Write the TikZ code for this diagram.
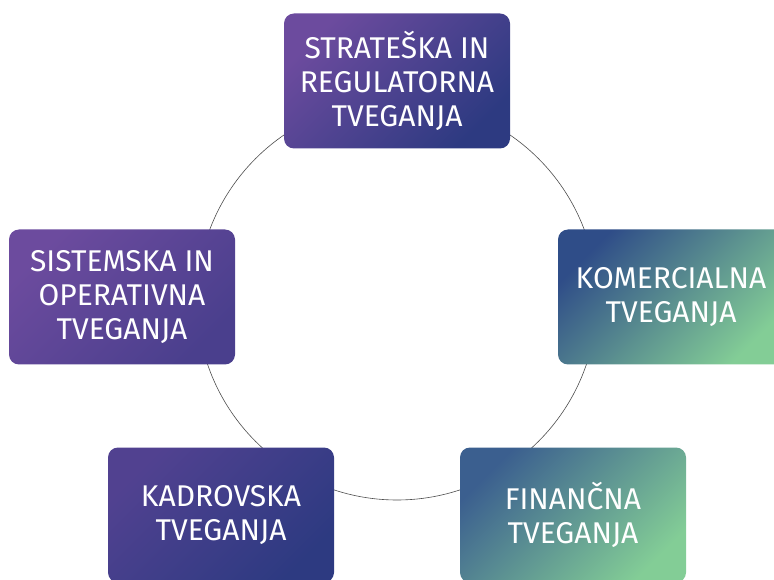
\documentclass[tikz,border=0pt]{standalone}
\usepackage{fontspec}
\setmainfont{Fira Sans}
\usetikzlibrary{positioning}
\definecolor{vijola}{HTML}{6C4B9E}
\definecolor{vijolb}{HTML}{4A3F8D}
\definecolor{temnom}{HTML}{2D3A81}
\definecolor{modra}{HTML}{2F4D88}
\definecolor{modrb}{HTML}{3B5F8F}
\definecolor{zelena}{HTML}{83CD96}
\tikzset{%
    riskbox/.style={rectangle,rounded corners=10pt,minimum width=226pt,minimum height=135pt,
      inner sep=0pt,align=center,text=white,font=\fontsize{30}{34}\selectfont},
    vijbox/.style={riskbox,top color=#1,bottom color=temnom,shading angle=45},
    zelbox/.style={riskbox,top color=#1,bottom color=zelena,shading angle=45},
    ring/.style={draw=black!70,line width=0.6pt}
}

\begin{document}
\begin{tikzpicture}[x=1pt,y=1pt]
            \useasboundingbox (0,0) rectangle (774,579);
            \coordinate (c) at (397,279);
            \draw[ring] (c) circle (200);
            %%%%%
            \node [vijbox=vijola] (strat) at (397,498) {STRATEŠKA IN\\REGULATORNA\\TVEGANJA};
            \node [zelbox=modra] (komerc) at (671,282) {KOMERCIALNA\\TVEGANJA};
            \node [zelbox=modrb] (finan) at (573,64) {FINANČNA\\TVEGANJA};
            \node [vijbox=vijolb!80!vijola] (kadr) at (221,64) {KADROVSKA\\TVEGANJA};
            \node [riskbox,top color=vijola,bottom color=vijolb,shading angle=45] (sist) at (122,282)
            {SISTEMSKA IN\\OPERATIVNA\\TVEGANJA};
\end{tikzpicture}
\end{document}
